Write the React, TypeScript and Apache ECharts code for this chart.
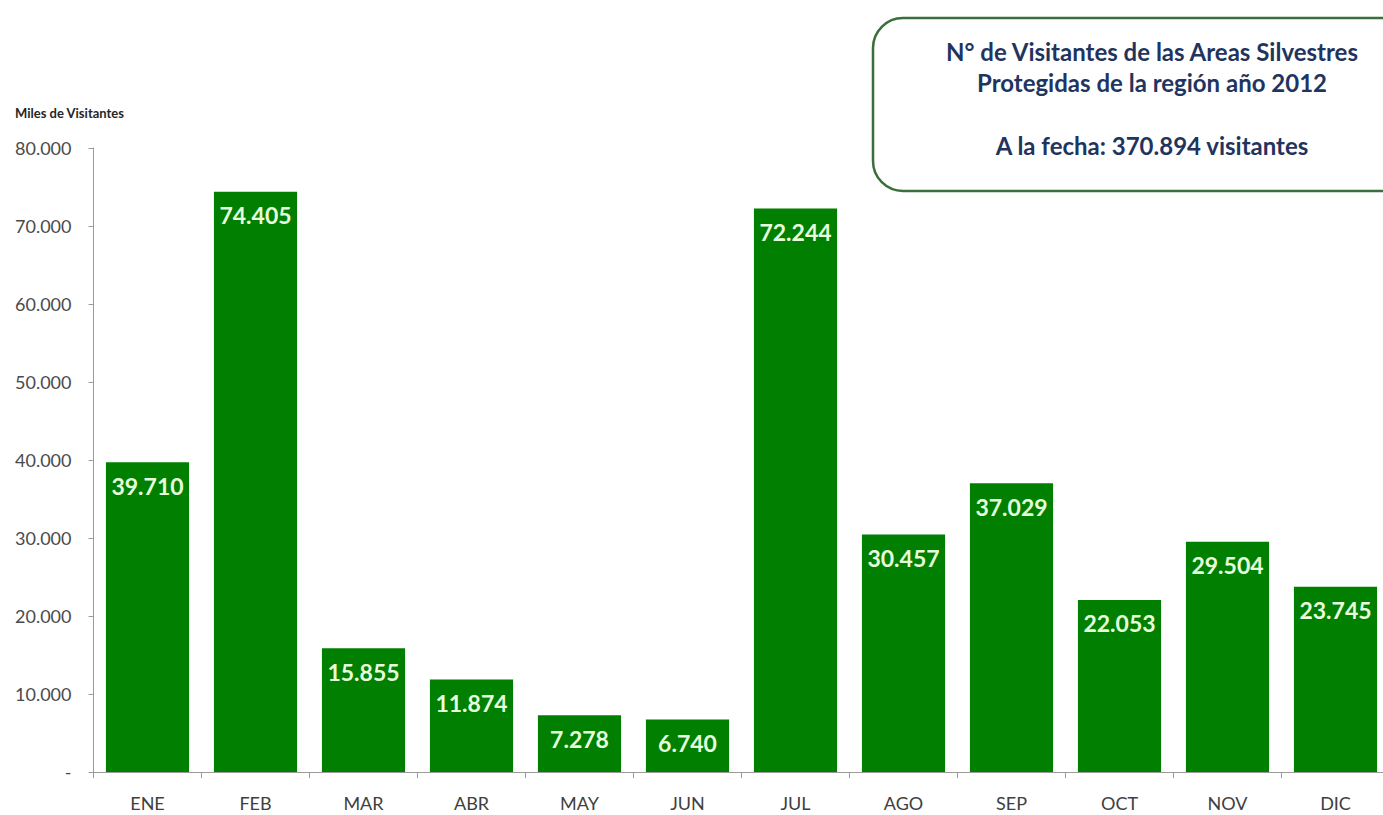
import React, { useEffect, useRef } from "react";
import * as echarts from "echarts";

const categories = ["ENE", "FEB", "MAR", "ABR", "MAY", "JUN", "JUL", "AGO", "SEP", "OCT", "NOV", "DIC"];
const visitors = [39710, 74405, 15855, 11874, 7278, 6740, 72244, 30457, 37029, 22053, 29504, 23745];
const titleLines = ["N° de Visitantes de las Areas Silvestres", "Protegidas de la región año 2012", "A la fecha: 370.894 visitantes"];
const axisTitle = "Miles de Visitantes";

const fmt = (v: number) => {
  if (v === 0) return "-";
  return v.toLocaleString("de-DE");
};

export default function App() {
  const ref = useRef<HTMLDivElement>(null);
  useEffect(() => {
    document.body.style.margin = "0";
    const chart = echarts.init(ref.current!, null, { renderer: "svg" });
    const font = "Lato, 'Open Sans', sans-serif";
    const titleStyle = (text: string) => ({
      text,
      fill: "#1f3560",
      font: `bold 24px ${font}`,
      align: "center",
      verticalAlign: "middle",
    });
    chart.setOption({
      animation: false,
      backgroundColor: "#ffffff",
      textStyle: { fontFamily: font },
      grid: { left: 93.5, top: 148, width: 1296, bottom: 43, containLabel: false },
      xAxis: {
        type: "category",
        data: categories,
        axisLine: { lineStyle: { color: "#9a9a9a", width: 1 } },
        axisTick: { show: true, interval: 0, length: 6, lineStyle: { color: "#9a9a9a" } },
        axisLabel: { color: "#404040", fontSize: 18, margin: 22, fontFamily: font },
      },
      yAxis: {
        type: "value",
        min: 0,
        max: 80000,
        interval: 10000,
        axisLine: { show: true, lineStyle: { color: "#9a9a9a", width: 1 } },
        axisTick: { show: true, length: 5, lineStyle: { color: "#9a9a9a" } },
        splitLine: { show: false },
        axisLabel: { color: "#4a4a4a", fontSize: 18, margin: 22, formatter: (v: number) => fmt(v), fontFamily: font },
      },
      series: [
        {
          type: "bar",
          data: visitors,
          barCategoryGap: "23%",
          itemStyle: { color: "#007f00" },
          label: {
            show: true,
            position: "insideTop",
            distance: 12,
            color: "#e6ffdc",
            fontWeight: "bold",
            fontSize: 23,
            fontFamily: font,
            formatter: (p: any) => fmt(p.value),
          },
        },
      ],
      graphic: [
        {
          type: "text",
          left: 15,
          top: 106,
          style: { text: axisTitle, fill: "#262626", font: `bold 13px ${font}` },
        },
        {
          type: "rect",
          shape: { x: 873, y: 18, width: 560, height: 173, r: 30 },
          style: { fill: "#ffffff", stroke: "#3a6e3a", lineWidth: 2.5 },
        },
        { type: "text", x: 1152, y: 51, style: titleStyle(titleLines[0]) },
        { type: "text", x: 1152, y: 82, style: titleStyle(titleLines[1]) },
        { type: "text", x: 1152, y: 145, style: titleStyle(titleLines[2]) },
      ],
    });
    return () => chart.dispose();
  }, []);
  return (
    <div style={{ width: 1383, height: 815, overflow: "hidden", position: "relative" }}>
      <div ref={ref} style={{ width: 1400, height: 815 }} />
    </div>
  );
}
